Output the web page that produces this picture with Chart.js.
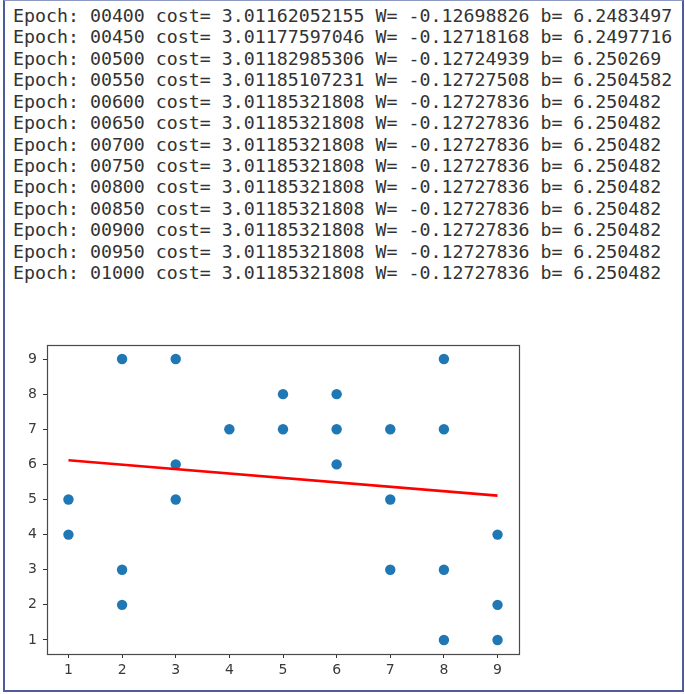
<!DOCTYPE html>
<html>
<head>
<meta charset="utf-8">
<script src="https://cdn.jsdelivr.net/npm/chart.js@4/dist/chart.umd.min.js"></script>
<style>
  html, body { margin: 0; padding: 0; background: #fff; }
  body { width: 685px; height: 694px; position: relative; overflow: hidden; }
  #frame { position: absolute; left: 3px; top: 0; width: 677px; height: 689px;
           border: 2px solid #4e5c9e; border-top: 1px solid #8e99c4; }
  #log { position: absolute; left: 13px; top: 5px; margin: 0;
         font-family: "DejaVu Sans Mono", "Liberation Mono", monospace;
         font-size: 18.25px; line-height: 21.42px; color: #333; white-space: pre; }
  #wrap { position: absolute; left: 0; top: 330px; width: 540px; height: 355px; }
</style>
</head>
<body>
<div id="frame"></div>
<pre id="log"></pre>
<div id="wrap"><canvas id="c" width="540" height="355"></canvas></div>
<script>
// ---- data ----
const epochs = ["00400","00450","00500","00550","00600","00650","00700","00750","00800","00850","00900","00950","01000"];
const costs  = ["3.01162052155","3.01177597046","3.01182985306","3.01185107231","3.01185321808","3.01185321808","3.01185321808","3.01185321808","3.01185321808","3.01185321808","3.01185321808","3.01185321808","3.01185321808"];
const weights = ["-0.12698826","-0.12718168","-0.12724939","-0.12727508","-0.12727836","-0.12727836","-0.12727836","-0.12727836","-0.12727836","-0.12727836","-0.12727836","-0.12727836","-0.12727836"];
const biases  = ["6.2483497","6.2497716","6.250269","6.2504582","6.250482","6.250482","6.250482","6.250482","6.250482","6.250482","6.250482","6.250482","6.250482"];

const xValues = [1,1,2,2,2,3,3,3,4,5,5,6,6,6,7,7,7,8,8,8,8,9,9,9];
const yValues = [5,4,9,3,2,9,6,5,7,8,7,8,7,6,7,5,3,9,7,3,1,4,2,1];
const fitX = [1, 9];
const fitY = [6.12, 5.11];
const xTicks = [1,2,3,4,5,6,7,8,9];
const yTicks = [1,2,3,4,5,6,7,8,9];

// ---- log text ----
document.getElementById('log').textContent = epochs.map((e, i) =>
  "Epoch: " + e + " cost= " + costs[i] + " W= " + weights[i] + " b= " + biases[i]).join("\n");

// ---- chart ----
const framePlugin = {
  id: 'frame',
  afterDatasetsDraw(chart) {
    const a = chart.chartArea, ctx = chart.ctx;
    ctx.save();
    ctx.strokeStyle = '#4a4a4a';
    ctx.lineWidth = 1.2;
    ctx.strokeRect(Math.round(a.left) + 0.5, Math.round(a.top) + 0.5,
                   Math.round(a.right - a.left), Math.round(a.bottom - a.top));
    ctx.restore();
  }
};

const tickFont = { family: 'DejaVu Sans', size: 14 };

new Chart(document.getElementById('c'), {
  type: 'scatter',
  data: {
    datasets: [
      {
        type: 'line',
        data: fitX.map((x, i) => ({ x: x, y: fitY[i] })),
        borderColor: '#ff0000',
        borderWidth: 2.6,
        pointRadius: 0,
        fill: false,
        order: 1
      },
      {
        data: xValues.map((x, i) => ({ x: x, y: yValues[i] })),
        backgroundColor: '#1f77b4',
        borderWidth: 0,
        pointRadius: 5.2,
        order: 2
      }
    ]
  },
  options: {
    responsive: false,
    animation: false,
    events: [],
    layout: { padding: { top: 15, right: 21, left: 0, bottom: 0 } },
    plugins: { legend: { display: false }, tooltip: { enabled: false } },
    scales: {
      x: {
        type: 'linear', min: 0.6, max: 9.4,
        afterBuildTicks: s => { s.ticks = xTicks.map(v => ({ value: v })); },
        afterFit: s => { s.height = 31; },
        grid: { display: true, drawOnChartArea: false, drawTicks: true, tickLength: 4, tickColor: '#333', tickWidth: 1 },
        border: { display: false },
        ticks: { color: '#3a3a3a', font: tickFont, padding: 4, maxRotation: 0, autoSkip: false }
      },
      y: {
        type: 'linear', min: 0.6, max: 9.4,
        afterBuildTicks: s => { s.ticks = yTicks.map(v => ({ value: v })); },
        afterFit: s => { s.width = 47; },
        grid: { display: true, drawOnChartArea: false, drawTicks: true, tickLength: 4, tickColor: '#333', tickWidth: 1 },
        border: { display: false },
        ticks: { color: '#3a3a3a', font: tickFont, padding: 6, autoSkip: false }
      }
    }
  },
  plugins: [framePlugin]
});
</script>
</body>
</html>
